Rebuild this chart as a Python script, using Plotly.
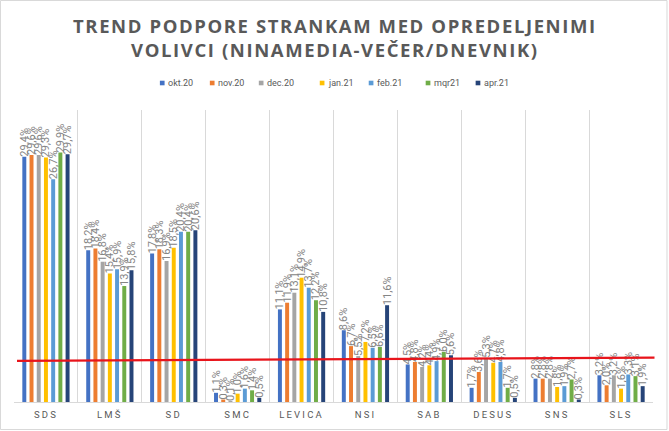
import plotly.graph_objects as go

categories = ["SDS", "LMŠ", "SD", "SMC", "LEVICA", "NSI", "SAB", "DESUS", "SNS", "SLS"]
series_names = ["okt.20", "nov.20", "dec.20", "jan.21", "feb.21", "mqr21", "apr.21"]
okt20 = [29.4, 18.2, 17.8, 1.1, 11.1, 8.6, 4.5, 1.7, 2.8, 3.2]
nov20 = [29.6, 18.4, 18.3, 0.3, 11.9, 6.7, 4.8, 3.6, 2.8, 2.0]
dec20 = [29.6, 16.8, 16.9, 0.1, 13.1, 5.5, 4.2, 5.3, 2.8, 3.2]
jan21 = [29.3, 15.4, 18.5, 1.0, 14.9, 7.2, 4.4, 4.7, 1.8, 1.6]
feb21 = [26.7, 15.9, 20.4, 1.6, 13.7, 6.5, 4.9, 4.8, 1.9, 3.3]
mqr21 = [29.9, 13.9, 20.4, 1.4, 12.2, 6.6, 6.0, 1.7, 2.7, 3.1]
apr21 = [29.7, 15.8, 20.6, 0.5, 10.8, 11.6, 5.6, 0.5, 0.3, 1.9]
series_values = [okt20, nov20, dec20, jan21, feb21, mqr21, apr21]
colors = ["#4472C4", "#ED7D31", "#A5A5A5", "#FFC000", "#5B9BD5", "#70AD47", "#264478"]
threshold_line = [4.92, 5.33]  # red hand-drawn line, left and right level (%)
y_max = 35
title_lines = ["TREND PODPORE STRANKAM MED OPREDELJENIMI", "VOLIVCI (NINAMEDIA-VEČER/DNEVNIK)"]

W, H = 669, 431
ML, MR, MT, MB = 14, 15.5, 110, 29
PW = W - ML - MR
PH = H - MT - MB

def fmt(v):
    return f"{v:.1f}".replace(".", ",") + "%"

fig = go.Figure()
for name, vals, col in zip(series_names, series_values, colors):
    fig.add_trace(go.Bar(
        name=name, x=categories, y=vals,
        marker=dict(color=col, line=dict(width=0)),
        text=[fmt(v) for v in vals],
        textposition="outside", textangle=-90, constraintext="none",
        cliponaxis=False,
        textfont=dict(family="Roboto", size=11, color="#858585"),
        hoverinfo="skip",
    ))

def px2x(px):
    return (px - ML) / PW

def py2y(py):
    return (H - MB - py) / PH

shapes = []
# red line
shapes.append(dict(type="line", xref="paper", yref="y",
                   x0=px2x(17), x1=px2x(655), y0=threshold_line[0], y1=threshold_line[1],
                   line=dict(color="#E8141B", width=2.2)))
# chart border
shapes.append(dict(type="rect", xref="paper", yref="paper",
                   x0=px2x(0.5), x1=px2x(W - 1.5), y0=py2y(H - 1.5), y1=py2y(0.5),
                   line=dict(color="#D9D9D9", width=1)))

# manual compact legend
legend_px = [160, 210, 259, 320, 369, 426, 476]
annotations = []
for name, col, lx in zip(series_names, colors, legend_px):
    shapes.append(dict(type="rect", xref="paper", yref="paper",
                       x0=px2x(lx), x1=px2x(lx + 4.7), y0=py2y(85.3), y1=py2y(80.7),
                       fillcolor=col, line=dict(width=0)))
    annotations.append(dict(xref="paper", yref="paper", x=px2x(lx + 6), y=py2y(83),
                            xanchor="left", yanchor="middle", showarrow=False,
                            text=name, font=dict(family="Roboto", size=9, color="#595959")))

title_text = "<br>".join(f"<span style='letter-spacing:1.6px'>{t}</span>" for t in title_lines)
annotations.append(dict(xref="paper", yref="paper", x=px2x(335), y=py2y(11),
                        xanchor="center", yanchor="top", showarrow=False, align="center",
                        text=title_text,
                        font=dict(family="Open Sans", size=18.5, color="#595959", weight="bold")))

fig.update_layout(
    width=W, height=H,
    margin=dict(l=ML, r=MR, t=MT, b=MB, pad=0),
    paper_bgcolor="white", plot_bgcolor="white",
    barmode="group", bargap=0.21, bargroupgap=0.45,
    showlegend=False,
    xaxis=dict(type="category", tickson="boundaries", showgrid=True, gridcolor="#D9D9D9",
               gridwidth=1, showline=True, linecolor="#D9D9D9", ticks="",
               tickvals=categories, ticklabelstandoff=4,
               ticktext=[f"<span style='letter-spacing:2.2px'>{c}</span>" for c in categories],
               tickfont=dict(family="Roboto", size=9.5, color="#595959")),
    yaxis=dict(range=[0, y_max], visible=False, showgrid=False, zeroline=False),
    shapes=shapes, annotations=annotations,
    font=dict(family="Roboto"),
)

fig.write_html("out.html", config={"displayModeBar": False},
               post_script="document.body.style.margin='0';")
